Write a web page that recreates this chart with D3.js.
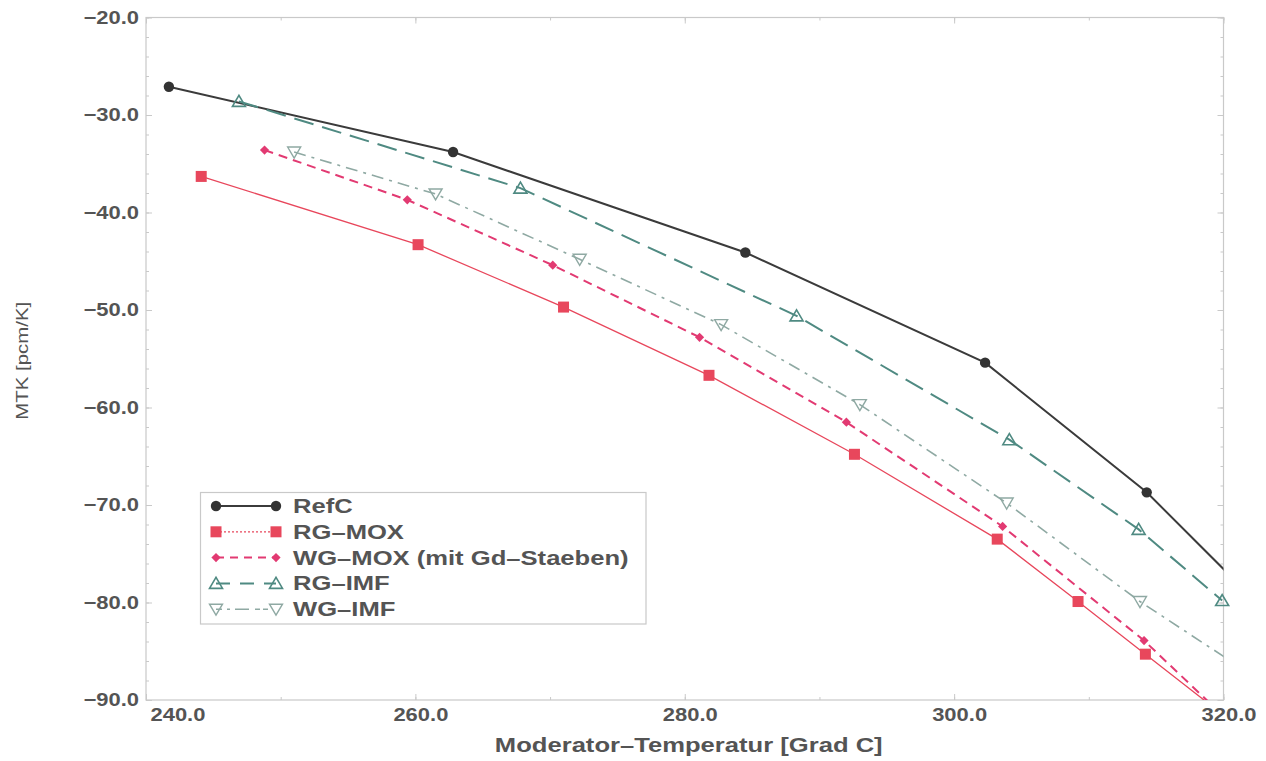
<!DOCTYPE html>
<html>
<head>
<meta charset="utf-8">
<script src="https://cdn.jsdelivr.net/npm/d3@7"></script>
<style>
  html, body { margin: 0; padding: 0; background: #fff; }
  svg { display: block; }
  text { font-family: "Liberation Sans", Arial, Helvetica, sans-serif; }
</style>
</head>
<body>
<svg id="chart" width="1266" height="761"></svg>
<script>
// Moderator temperature coefficient vs. moderator temperature
const xTicks = [240, 260, 280, 300, 320];
const yTicks = [-20, -30, -40, -50, -60, -70, -80, -90];

const refcT   = [241.7, 262.8, 284.5, 302.3, 314.3, 323.0];
const refcMTK = [-27.1, -33.8, -44.1, -55.4, -68.7, -80.7];

const rgMoxT   = [244.1, 260.2, 271.0, 281.8, 292.6, 303.2, 309.2, 314.2, 319.2];
const rgMoxMTK = [-36.3, -43.3, -49.7, -56.7, -64.8, -73.5, -79.9, -85.3, -90.7];

const wgMoxT   = [248.8, 259.4, 270.2, 281.1, 292.0, 303.6, 314.1, 324.0];
const wgMoxMTK = [-33.6, -38.7, -45.4, -52.8, -61.5, -72.2, -83.9, -96.9];

const rgImfT   = [246.9, 267.8, 288.3, 304.1, 313.7, 319.9];
const rgImfMTK = [-28.6, -37.5, -50.6, -63.3, -72.5, -79.8];

const wgImfT   = [251.0, 261.5, 272.2, 282.7, 293.0, 303.9, 313.8, 323.5];
const wgImfMTK = [-33.8, -38.1, -44.8, -51.5, -59.7, -69.8, -79.9, -88.7];

const seriesNames = ["RefC", "RG\u2013MOX", "WG\u2013MOX (mit Gd\u2013Staeben)", "RG\u2013IMF", "WG\u2013IMF"];

const series = [
  { name: seriesNames[0], t: refcT,  v: refcMTK,  color: "#3b3b3b", width: 2.0, dash: null,       marker: "circle" },
  { name: seriesNames[1], t: rgMoxT, v: rgMoxMTK, color: "#e8475c", width: 1.3, dash: null,       marker: "square",  legendDash: "2,2" },
  { name: seriesNames[2], t: wgMoxT, v: wgMoxMTK, color: "#e23a72", width: 2.0, dash: "9,6",      marker: "diamond", legendDash: "8,6" },
  { name: seriesNames[3], t: rgImfT, v: rgImfMTK, color: "#4f8a82", width: 2.0, dash: "20,9",     marker: "tri-up",  legendDash: "14,10" },
  { name: seriesNames[4], t: wgImfT, v: wgImfMTK, color: "#8fa9a3", width: 1.6, dash: "12,6,3,6", marker: "tri-down", legendDash: "6,5,3,5,14" }
];

const margin = { left: 146, right: 1266 - 1223.5, top: 17.5, bottom: 761 - 700 };
const W = 1266, H = 761;

const svg = d3.select("#chart");

const x = d3.scaleLinear().domain([240, 320]).range([margin.left, W - margin.right]);
const y = d3.scaleLinear().domain([-90, -20]).range([H - margin.bottom, margin.top]);

const textColor = "#545454";
const frameColor = "#c9c9c9";

// clip region for the curves
svg.append("defs").append("clipPath").attr("id", "plotClip")
  .append("rect")
  .attr("x", x(240)).attr("y", y(-20))
  .attr("width", x(320) - x(240)).attr("height", y(-90) - y(-20));

// frame
svg.append("rect")
  .attr("x", x(240)).attr("y", y(-20))
  .attr("width", x(320) - x(240)).attr("height", y(-90) - y(-20))
  .attr("fill", "none").attr("stroke", frameColor).attr("stroke-width", 1.2);

// inward ticks on all four sides
const xMinor = d3.range(240, 321, 10);
const yMinor = d3.range(-90, -19, 2);
function tickAxis(gen, transform, values, size) {
  const g = svg.append("g").attr("transform", transform)
    .call(gen.tickValues(values).tickSize(size).tickFormat(""));
  g.select(".domain").remove();
  g.selectAll(".tick line").attr("stroke", frameColor).attr("stroke-width", 1);
}
tickAxis(d3.axisBottom(x), `translate(0,${y(-90)})`, xMinor, -3);
tickAxis(d3.axisBottom(x), `translate(0,${y(-90)})`, xTicks, -6);
tickAxis(d3.axisTop(x), `translate(0,${y(-20)})`, xMinor, -3);
tickAxis(d3.axisTop(x), `translate(0,${y(-20)})`, xTicks, -6);
tickAxis(d3.axisLeft(y), `translate(${x(240)},0)`, yMinor, -3);
tickAxis(d3.axisLeft(y), `translate(${x(240)},0)`, yTicks, -6);
tickAxis(d3.axisRight(y), `translate(${x(320)},0)`, yMinor, -3);
tickAxis(d3.axisRight(y), `translate(${x(320)},0)`, yTicks, -6);

// tick labels
const sx = 1.22;
const fmt = d => (d < 0 ? "\u2212" + Math.abs(d).toFixed(1) : d.toFixed(1));

const xLab = svg.append("g").attr("transform", `translate(0,${y(-90)})`)
  .call(d3.axisBottom(x).tickValues(xTicks).tickSize(0).tickPadding(8).tickFormat(d => d.toFixed(1)));
xLab.select(".domain").remove();
xLab.selectAll("text")
  .attr("font-size", 18).attr("font-weight", "bold").attr("fill", textColor)
  .attr("font-family", "Liberation Sans, Arial, sans-serif")
  .attr("x", d => (d === 240 ? 4 : 5) / sx)
  .attr("text-anchor", d => d === 240 ? "start" : "middle")
  .attr("transform", `scale(${sx},1)`);

const yLab = svg.append("g").attr("transform", `translate(${x(240)},0)`)
  .call(d3.axisLeft(y).tickValues(yTicks).tickSize(0).tickPadding(7).tickFormat(fmt));
yLab.select(".domain").remove();
yLab.selectAll("text")
  .attr("font-size", 18).attr("font-weight", "bold").attr("fill", textColor)
  .attr("font-family", "Liberation Sans, Arial, sans-serif")
  .attr("x", -7 / sx)
  .attr("transform", `scale(${sx},1)`);

// axis titles
svg.append("text")
  .attr("transform", `translate(${(x(240) + x(320)) / 2 + 4},752) scale(1.28,1)`)
  .attr("text-anchor", "middle").attr("font-size", 20).attr("font-weight", "bold")
  .attr("fill", textColor)
  .text("Moderator\u2013Temperatur [Grad C]");

svg.append("text")
  .attr("transform", `translate(28,${y(-55) + 2}) rotate(-90) scale(1.2,1)`)
  .attr("text-anchor", "middle").attr("font-size", 17)
  .attr("fill", textColor)
  .text("MTK [pcm/K]");

// marker shapes
function drawMarker(g, type, color, cx, cy) {
  if (type === "circle") {
    g.append("circle").attr("cx", cx).attr("cy", cy).attr("r", 5.2).attr("fill", "#333");
  } else if (type === "square") {
    g.append("rect").attr("x", cx - 5.5).attr("y", cy - 5.5).attr("width", 11).attr("height", 11).attr("fill", color);
  } else if (type === "diamond") {
    g.append("path").attr("d", `M${cx},${cy - 4.6} L${cx + 4.6},${cy} L${cx},${cy + 4.6} L${cx - 4.6},${cy} Z`)
      .attr("fill", color);
  } else if (type === "tri-up") {
    g.append("path").attr("d", `M${cx - 6.5},${cy + 5} L${cx + 6.5},${cy + 5} L${cx},${cy - 6} Z`)
      .attr("fill", "#fff").attr("fill-opacity", 0).attr("stroke", color).attr("stroke-width", 1.6);
  } else if (type === "tri-down") {
    g.append("path").attr("d", `M${cx - 6.5},${cy - 5} L${cx + 6.5},${cy - 5} L${cx},${cy + 6} Z`)
      .attr("fill", "#fff").attr("fill-opacity", 0).attr("stroke", color).attr("stroke-width", 1.4);
  }
}

const line = d3.line().x(d => x(d[0])).y(d => y(d[1]));

const plot = svg.append("g");
series.forEach(s => {
  const pts = s.t.map((t, i) => [t, s.v[i]]);
  plot.append("path")
    .attr("clip-path", "url(#plotClip)")
    .attr("d", line(pts))
    .attr("fill", "none")
    .attr("stroke", s.color)
    .attr("stroke-width", s.width)
    .attr("stroke-dasharray", s.dash);
  const mg = plot.append("g");
  pts.filter(p => p[0] <= 320 && p[1] >= -90)
    .forEach(p => drawMarker(mg, s.marker, s.color, x(p[0]), y(p[1])));
});

// legend
const legend = svg.append("g");
legend.append("rect")
  .attr("x", 200.5).attr("y", 492.5).attr("width", 445.5).attr("height", 131.5)
  .attr("fill", "#fff").attr("stroke", frameColor).attr("stroke-width", 1.2);
series.forEach((s, i) => {
  const ly = 506 + i * 25.8;
  legend.append("line")
    .attr("x1", 216).attr("x2", 276).attr("y1", ly).attr("y2", ly)
    .attr("stroke", s.color).attr("stroke-width", s.marker === "square" ? 1.2 : s.width)
    .attr("stroke-dasharray", s.legendDash || null);
  drawMarker(legend, s.marker, s.color, 216, ly);
  drawMarker(legend, s.marker, s.color, 276, ly);
  legend.append("text")
    .attr("transform", `translate(293,${ly + 7}) scale(1.28,1)`)
    .attr("font-size", 20).attr("font-weight", "bold").attr("fill", textColor)
    .text(s.name);
});
</script>
</body>
</html>
